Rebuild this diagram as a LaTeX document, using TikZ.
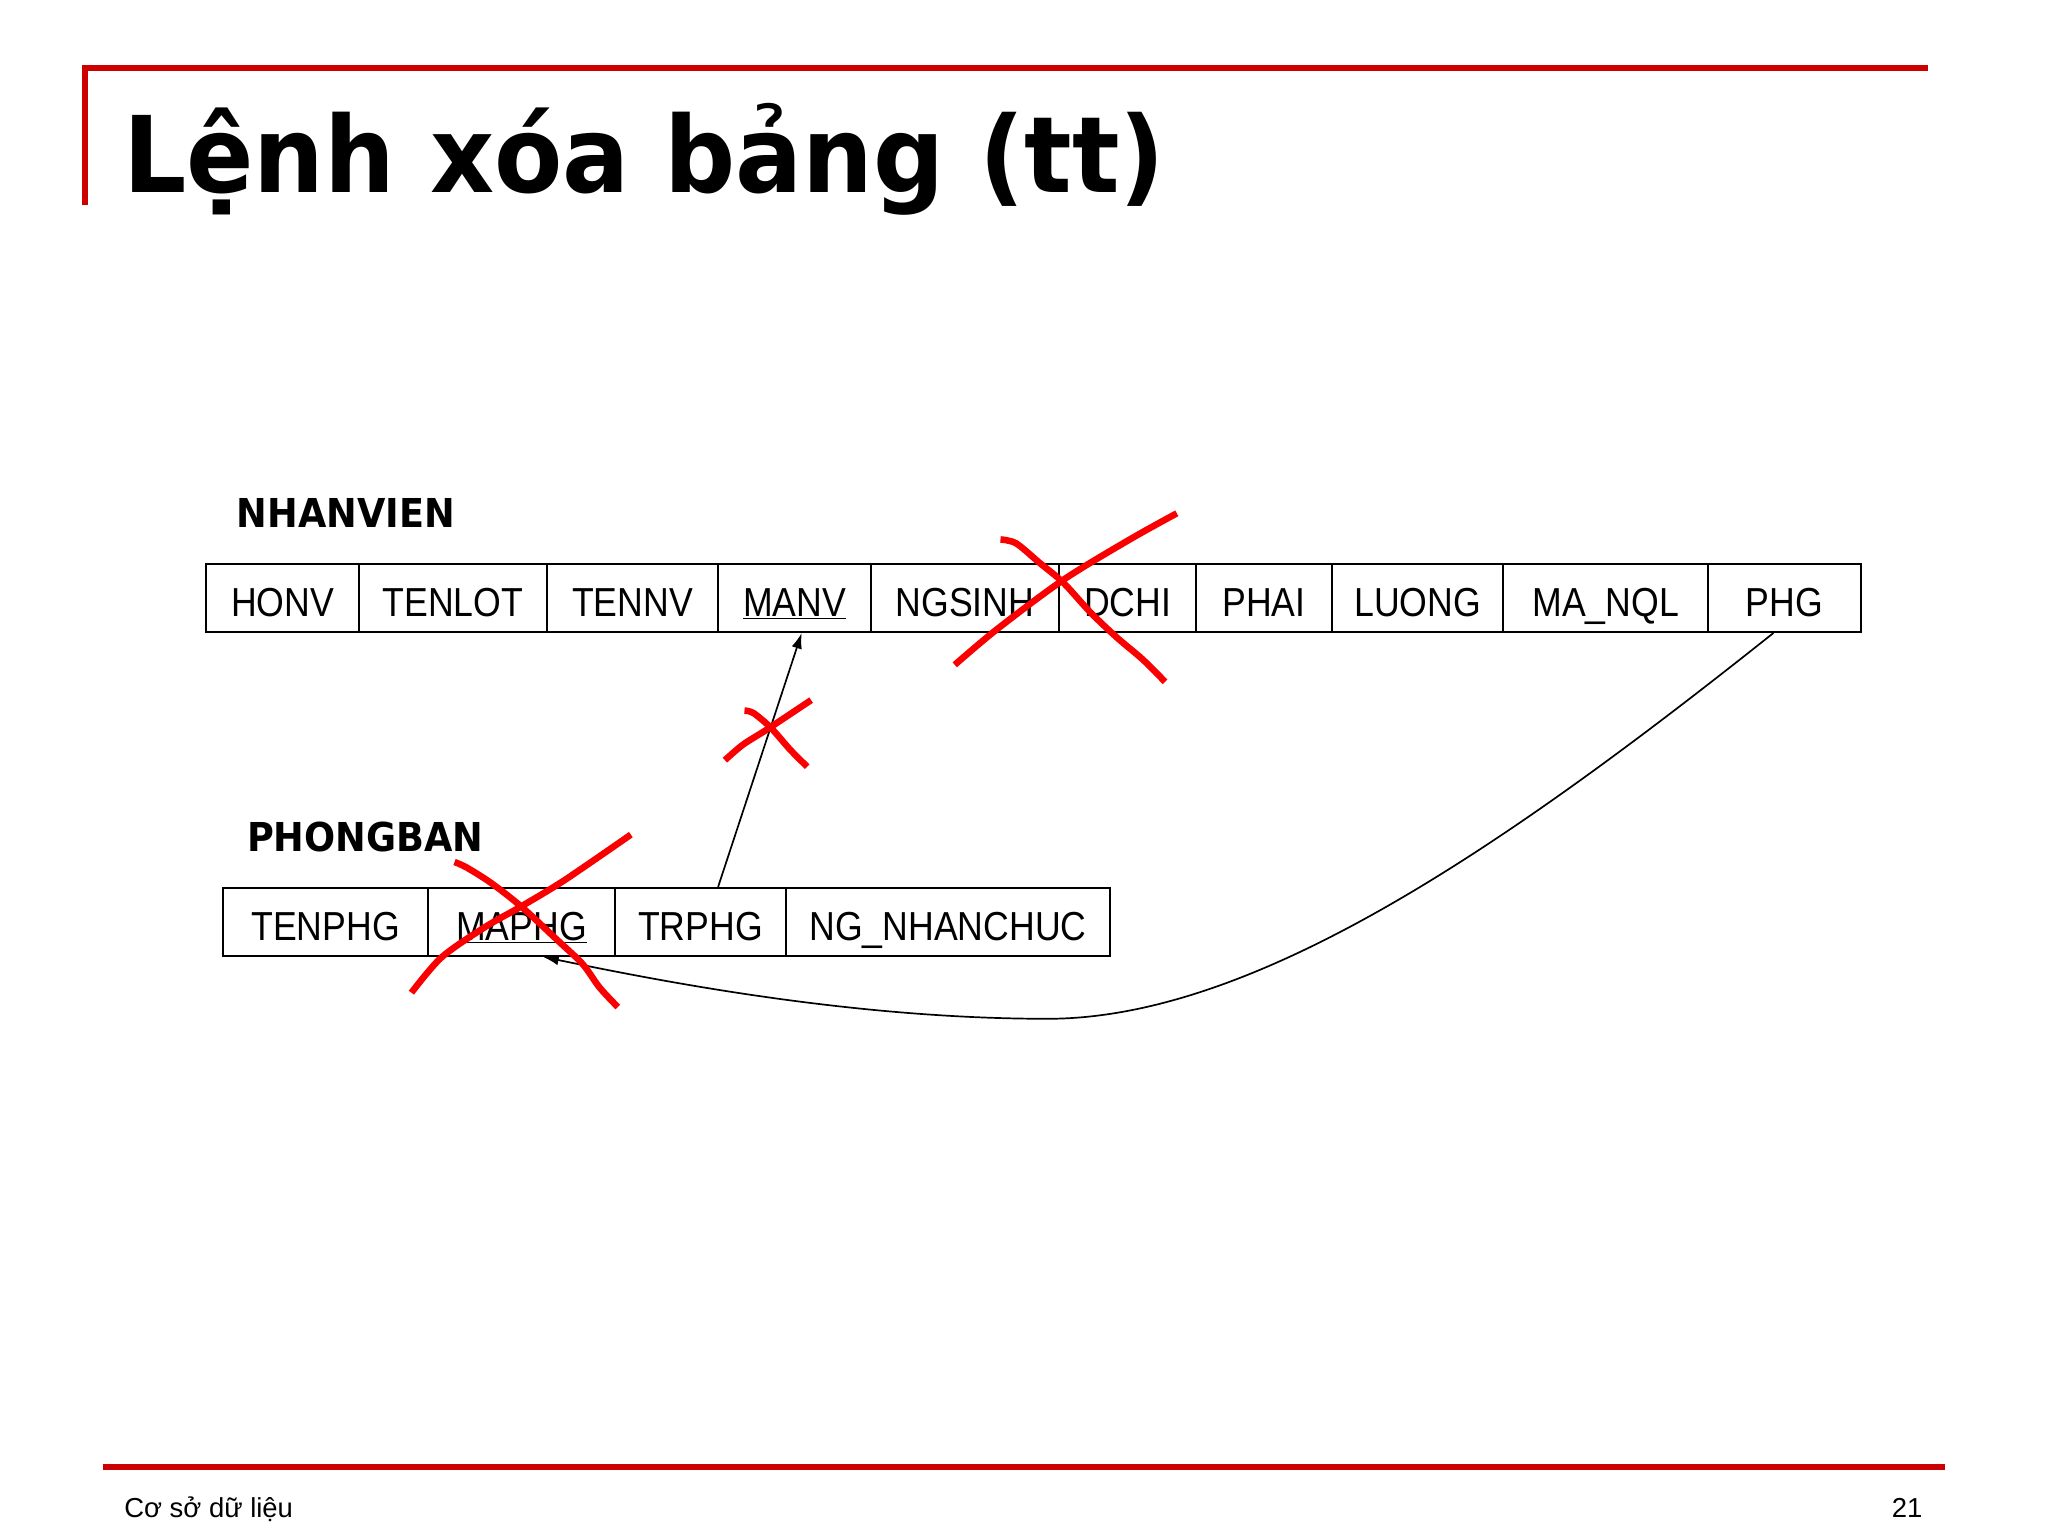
\documentclass[tikz,border=0pt]{standalone}
\usepackage{fontspec}
\setmainfont{DejaVu Sans}
\newfontfamily\cellfont[FakeStretch=0.88]{Liberation Sans}
\newfontfamily\headfont[FakeStretch=0.94]{DejaVu Sans}
\newfontfamily\tblfont[FakeStretch=0.92]{DejaVu Sans}
\newfontfamily\footfont{Liberation Sans}
\usepackage{tikz}
\usetikzlibrary{arrows.meta}
\definecolor{slidered}{RGB}{204,0,0}
\definecolor{markred}{RGB}{250,0,0}

\begin{document}
\begin{tikzpicture}
   [x=1pt,y=-1pt,
    cell/.style={draw,line width=1.6pt,anchor=north west,minimum height=52pt,inner sep=0pt,
       text height=30pt,text depth=2pt,font=\cellfont\fontsize{31}{32}\selectfont},
    tname/.style={anchor=base west,inner sep=0pt,font=\tblfont\bfseries\fontsize{30.5}{32}\selectfont},
    ref/.style={line width=1.3pt,-{Latex[length=12pt,width=8pt]}},
    cross/.style={markred,line width=5pt}]
   \fill[white] (0,0) rectangle (1568,1176);
   \useasboundingbox (0,0) rectangle (1568,1176);

   % slide frame
   \draw[slidered,line width=5pt] (63,52) -- (1476,52);
   \draw[slidered,line width=4pt] (65,50) -- (65,157);
   \draw[slidered,line width=5pt] (79,1123) -- (1489,1123);
   \node[anchor=base west,inner sep=0pt,font=\headfont\bfseries\fontsize{81}{90}\selectfont]
      (title) at (94,147) {Lệnh xóa bảng (tt)};
   \node[anchor=base west,inner sep=0pt,font=\footfont\fontsize{21}{24}\selectfont]
      (course) at (95,1162) {Cơ sở dữ liệu};
   \node[anchor=base east,inner sep=0pt,font=\footfont\fontsize{21}{24}\selectfont]
      (page) at (1472,1162) {21};

   % NHANVIEN
   \node[tname] (nvname) at (181,404) {NHANVIEN};
   \node[cell,minimum width=117pt] (honv) at (157,431) {HONV};
   \node[cell,minimum width=144pt] (tenlot) at (274,431) {TENLOT};
   \node[cell,minimum width=131pt] (tennv) at (418,431) {TENNV};
   \node[cell,minimum width=117pt] (manv) at (549,431) {\underline{MANV}};
   \node[cell,minimum width=144pt] (ngsinh) at (666,431) {NGSINH};
   \node[cell,minimum width=105pt] (dchi) at (810,431) {DCHI};
   \node[cell,minimum width=104pt] (phai) at (915,431) {PHAI};
   \node[cell,minimum width=131pt] (luong) at (1019,431) {LUONG};
   \node[cell,minimum width=157pt] (manql) at (1150,431) {MA\_NQL};
   \node[cell,minimum width=117pt] (phg) at (1307,431) {PHG};

   % PHONGBAN
   \node[tname] (pbname) at (189,652) {PHONGBAN};
   \node[cell,minimum width=157pt] (tenphg) at (170,679) {TENPHG};
   \node[cell,minimum width=143pt] (maphg) at (327,679) {\underline{MAPHG}};
   \node[cell,minimum width=131pt] (trphg) at (470,679) {TRPHG};
   \node[cell,minimum width=248pt] (ngnhanchuc) at (601,679) {NG\_NHANCHUC};

   % references
   \coordinate (dip) at (802,780);
   \draw[ref] ([xshift=13.5pt]trphg.north) -- ([xshift=5.5pt]manv.south);
   \draw[ref] ([xshift=-8.5pt]phg.south) .. controls (1150,650) and (960,780) .. (dip)
      .. controls (650,780) and (500,750) .. ([xshift=16.5pt]maphg.south);

   % crossed out
   \draw[cross] plot[smooth] coordinates {(731,509) (763,482) (814,444) (865,413) (901,393)};
   \draw[cross] plot[smooth] coordinates {(766,413) (778,416) (796,431) (814,446) (835,469) (855,488) (875,505) (892,522)};
   \draw[cross] plot[smooth] coordinates {(555,582) (569,570) (588,558) (621,536)};
   \draw[cross] plot[smooth] coordinates {(570,544) (577,546) (590,557) (605,574) (618,587)};
   \draw[cross] plot[smooth] coordinates {(315,760) (338,733) (371,710) (399,694) (432,674) (483,639)};
   \draw[cross] plot[smooth] coordinates {(348,660) (357,664) (376,676) (399,694) (427,720) (446,738) (459,756) (473,771)};
\end{tikzpicture}
\end{document}
